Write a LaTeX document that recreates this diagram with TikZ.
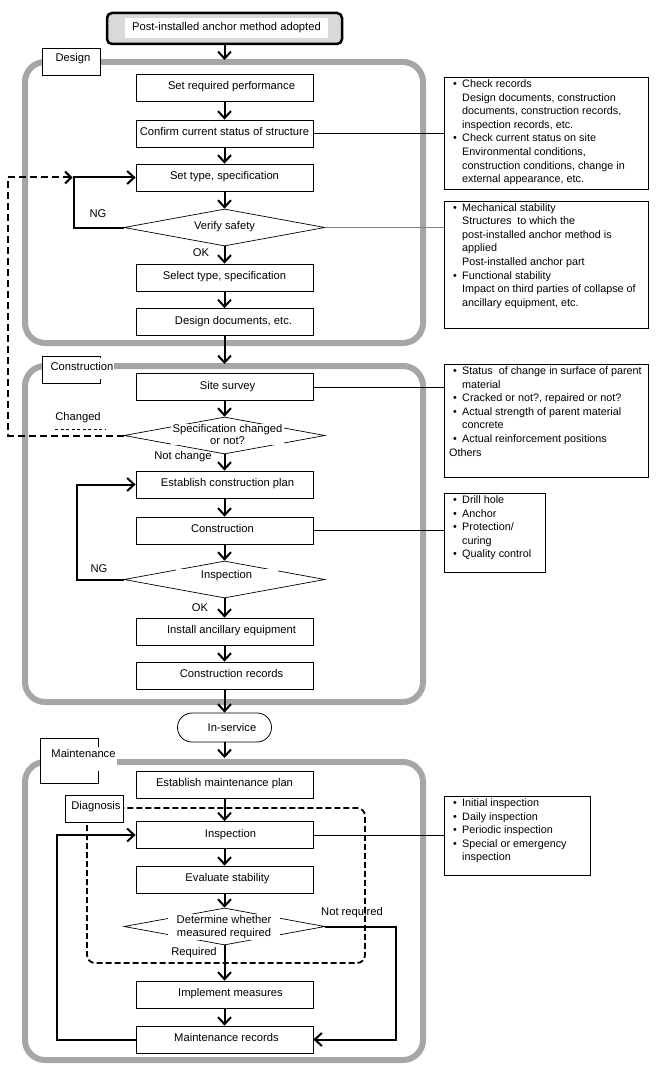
\documentclass[tikz,border=0pt]{standalone}
\usepackage{fontspec}
\setmainfont{Liberation Sans}
\usetikzlibrary{arrows.meta,shapes.geometric}
\definecolor{framegray}{RGB}{166,166,166}
\definecolor{topfill}{RGB}{217,217,217}
\definecolor{linkgray}{RGB}{128,128,128}
\newcommand{\annbul}{\hspace*{4pt}\makebox[9pt][l]{\textbullet}}
\newcommand{\annind}{\hspace*{13pt}}
\begin{document}
\begin{tikzpicture}[x=1pt,y=-1pt,
  font=\fontsize{11.2}{13.6}\selectfont,
  frame/.style={draw=framegray,line width=6pt,rounded corners=20pt},
  stepbox/.style={draw,line width=0.8pt,fill=white,minimum width=177pt,minimum height=27pt,inner sep=0pt,text height=8pt,text depth=4pt},
  decbox/.style={draw,line width=0.7pt,fill=white,diamond,minimum width=201pt,minimum height=37pt,inner sep=0pt},
  labbox/.style={draw,line width=0.8pt,fill=white,minimum width=58pt,inner sep=0pt},
  annbox/.style={draw,line width=0.8pt,inner sep=0pt},
  anntext/.style={anchor=north west,inner sep=0pt,align=left,font=\fontsize{10.8}{13.6}\selectfont},
  mask/.style={fill=white,inner sep=1pt},
  flow/.style={line width=2pt,-{Straight Barb[length=7pt,width=13pt]}},
  dashflow/.style={line width=2pt,dash pattern=on 7pt off 4pt,-{Straight Barb[length=6pt,width=12pt]}},
  link/.style={line width=0.7pt},
  tag/.style={inner sep=0pt},
]
\useasboundingbox (0,0) rectangle (658,1086);

% ---- phase frames
\draw[frame] (25,62) rectangle (423,343);
\draw[frame] (25,366) rectangle (423,702);
\draw[frame] (25,762) rectangle (423,1060);

% ---- diagnosis dashed region
\draw[line width=1.8pt,dash pattern=on 6pt off 3pt,rounded corners=8pt] (87,808) rectangle (365,963);

% ---- frame labels
\node[labbox,minimum height=27pt] (dlab) at (71,61.5) {};
\node[tag] (dlabt) at (73,59) {Design};
\node[labbox,minimum height=27pt] (clab) at (71,369.5) {};
\node[mask,text height=11pt,text depth=8pt] (clabt) at (82,368.5) {Construction};
\node[labbox,minimum height=45pt] (mlab) at (69,760.5) {};
\node[mask,text height=9pt,text depth=13pt] (mlabt) at (83.5,759) {Maintenance};
\node[labbox,minimum height=27pt] (glab) at (94,808.5) {};
\node[mask,text height=9pt,text depth=6pt,inner sep=0.5pt] (glabt) at (96,807.5) {Diagnosis};

% ---- start box
\node[draw,line width=2.5pt,fill=topfill,rounded corners=5pt,minimum width=235pt,minimum height=31pt,inner sep=0pt] (top) at (224.5,28.5) {};
\node[fill=white,minimum width=203pt,minimum height=20pt,inner sep=0pt] (topt) at (226.5,28) {Post-installed anchor method adopted};

% ---- design
\node[stepbox] (srp) at (224.5,88) {\hspace*{14pt}Set required performance};
\node[stepbox] (ccs) at (224.5,133.5) {Confirm current status of structure};
\node[stepbox] (sts) at (224.5,177.5) {Set type, specification};
\node[decbox] (vs) at (224.5,227.5) {};
\node[tag] (vst) at (224.5,227) {Verify safety};
\node[stepbox] (sel) at (224.5,277.5) {Select type, specification};
\node[stepbox] (dd) at (224.5,322) {\hspace*{18pt}Design documents, etc.};

% ---- construction
\node[stepbox] (ss) at (224.5,387) {\hspace*{6pt}Site survey};
\node[decbox] (spec) at (224.5,435.5) {};
\node[mask,align=center,inner xsep=2pt,inner ysep=0.5pt] (spect) at (227.5,434.5) {Specification changed\\[-2pt]or not?};
\node[stepbox] (ecp) at (224.5,484.5) {\hspace*{6pt}Establish construction plan};
\node[stepbox] (con) at (224.5,530.5) {Construction\hspace*{4pt}};
\node[decbox] (insp) at (224.5,579.5) {};
\node[mask,minimum width=102pt,minimum height=14pt,inner sep=0pt] (inspt) at (226.5,576) {Inspection};
\node[stepbox] (iae) at (224.5,631.5) {\hspace*{14pt}Install ancillary equipment};
\node[stepbox] (cr) at (224.5,675.5) {\hspace*{14pt}Construction records};
\node[draw,line width=0.8pt,fill=white,rounded corners=14.5pt,minimum width=94pt,minimum height=29pt,inner sep=0pt] (ins) at (224.5,727.5) {\hspace*{15pt}In-service};

% ---- maintenance
\node[stepbox] (emp) at (224.5,784.5) {Establish maintenance plan};
\node[stepbox] (minsp) at (224.5,835) {\hspace*{12pt}Inspection};
\node[stepbox] (es) at (224.5,879.5) {\hspace*{6pt}Evaluate stability};
\node[decbox] (det) at (224.5,926.5) {};
\node[mask,align=center,inner xsep=9pt,inner ysep=0.5pt] (dett) at (224,927) {Determine whether\\measured required};
\node[stepbox] (im) at (224.5,994.5) {\hspace*{12pt}Implement measures};
\node[stepbox] (mr) at (224.5,1039.5) {\hspace*{4pt}Maintenance records};

% ---- branch labels
\node[tag] (ng1) at (98,214) {NG};
\node[tag] (ok1) at (201,253) {OK};
\node[tag] (chg) at (78,418) {Changed};
\node[tag] (nch) at (183,457) {Not change};
\node[tag] (ng2) at (99,569) {NG};
\node[tag] (ok2) at (200,608) {OK};
\node[tag] (nrq) at (352,913) {Not required};
\node[tag] (rq) at (194,953) {Required};
\coordinate (chu1) at (55,429);
\coordinate (chu2) at (105,429);
\draw[line width=0.6pt,dash pattern=on 3pt off 2.5pt] (chu1) -- (chu2);

% ---- annotation boxes
\node[annbox,minimum width=204pt,minimum height=112pt] (a1) at (546,133) {};
\node[anntext] (a1t) at (449,79.5) {\annbul Check records\\\annind Design documents, construction\\\annind documents, construction records,\\\annind inspection records, etc.\\\annbul Check current status on site\\\annind Environmental conditions,\\\annind construction conditions, change in\\\annind external appearance, etc.};
\node[annbox,minimum width=204pt,minimum height=127pt] (a2) at (546,264.5) {};
\node[anntext] (a2t) at (449,203) {\annbul Mechanical stability\\\annind Structures\ \ to which the\\\annind post-installed anchor method is\\\annind applied\\\annind Post-installed anchor part\\\annbul Functional stability\\\annind Impact on third parties of collapse of\\\annind ancillary equipment, etc.};
\node[annbox,minimum width=204pt,minimum height=113pt] (a3) at (546,420.5) {};
\node[anntext] (a3t) at (449,366.5) {\annbul Status\ \ of change in surface of parent\\\annind material\\\annbul Cracked or not?, repaired or not?\\\annbul Actual strength of parent material\\\annind concrete\\\annbul Actual reinforcement positions\\Others};
\node[annbox,minimum width=101pt,minimum height=79pt] (a4) at (494.5,532.5) {};
\node[anntext] (a4t) at (449,495.5) {\annbul Drill hole\\\annbul Anchor\\\annbul Protection/\\\annind curing\\\annbul Quality control};
\node[annbox,minimum width=146pt,minimum height=79pt] (a5) at (517,835.5) {};
\node[anntext] (a5t) at (449,798.5) {\annbul Initial inspection\\\annbul Daily inspection\\\annbul Periodic inspection\\\annbul Special or emergency\\\annind inspection};

% ---- links to annotations
\draw[link] (ccs.east) -- (ccs.east -| a1.west);
\draw[link,draw=linkgray] (vs.east) -- (vs.east -| a2.west);
\draw[link] (ss.east) -- (ss.east -| a3.west);
\draw[link] (con.east) -- (con.east -| a4.west);
\draw[link] (minsp.east) -- (minsp.east -| a5.west);

% ---- main flow
\coordinate (dtop) at (224.5,60);
\coordinate (ctop) at (224.5,364);
\coordinate (mtop) at (224.5,758);
\draw[flow] (top.south) -- (dtop);
\draw[flow] (srp.south) -- (ccs.north);
\draw[flow] (ccs.south) -- (sts.north);
\draw[flow] (sts.south) -- (vs.north);
\draw[flow] (vs.south) -- (sel.north);
\draw[flow] (sel.south) -- (dd.north);
\draw[flow] (dd.south) -- (ctop);
\draw[flow] (ss.south) -- (spec.north);
\draw[flow] (spec.south) -- (ecp.north);
\draw[flow] (ecp.south) -- (con.north);
\draw[flow] (con.south) -- (insp.north);
\draw[flow] (insp.south) -- (iae.north);
\draw[flow] (iae.south) -- (cr.north);
\draw[flow] (cr.south) -- (ins.north);
\draw[flow] (ins.south) -- (mtop);
\draw[flow] (emp.south) -- (minsp.north);
\draw[flow] (minsp.south) -- (es.north);
\draw[flow] (es.south) -- (det.north);
\draw[flow] (det.south) -- (im.north);
\draw[flow] (im.south) -- (mr.north);

% ---- loops
\coordinate (ngc1) at (74,227.5);
\coordinate (ngt1) at (74,177.5);
\draw[flow] (vs.west) -- (ngc1) |- (sts.west);
\coordinate (dlb) at (8,435.5);
\coordinate (dlt) at (8,177.5);
\draw[dashflow,shorten >=1.5pt] (spec.west) -- (dlb) -- (dlt) -- (ngt1);
\coordinate (ngc2) at (77,579.5);
\draw[flow] (insp.west) -- (ngc2) |- (ecp.west);
\coordinate (mlc) at (57,1039.5);
\draw[flow] (mr.west) -- (mlc) |- (minsp.west);
\coordinate (nrc) at (396,926.5);
\draw[flow] (det.east) -- (nrc) |- (mr.east);
\end{tikzpicture}
\end{document}
